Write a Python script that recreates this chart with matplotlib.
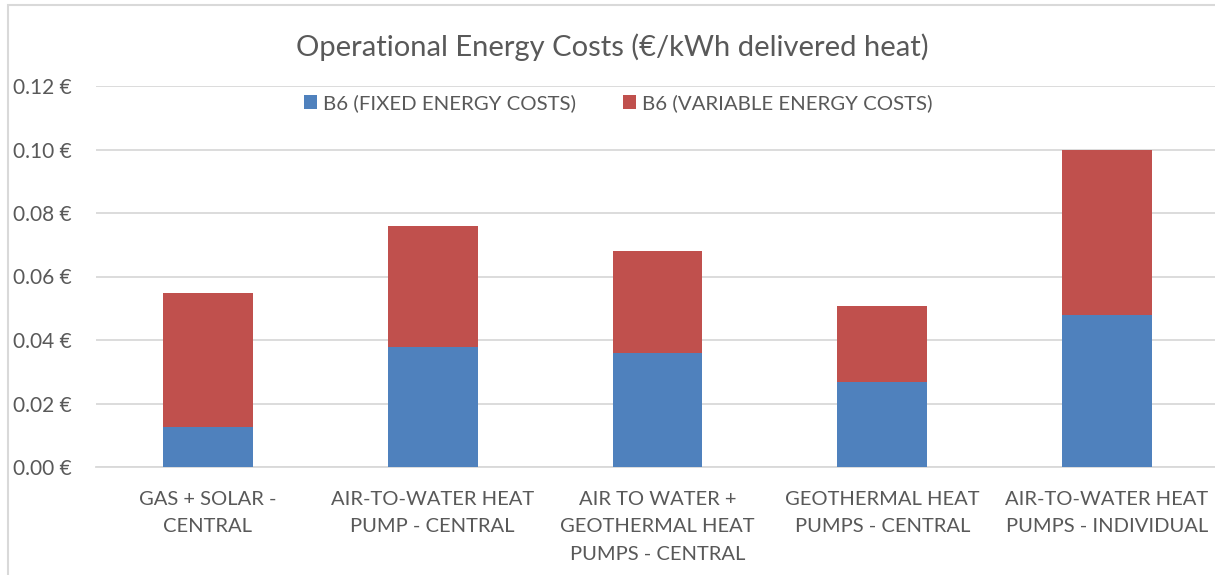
import matplotlib
matplotlib.use("Agg")
import matplotlib.pyplot as plt
import matplotlib.transforms as mtrans
from matplotlib.patches import Rectangle
from matplotlib.ticker import FuncFormatter

categories = ["GAS + SOLAR -\nCENTRAL",
              "AIR-TO-WATER HEAT\nPUMP - CENTRAL",
              "AIR TO WATER +\nGEOTHERMAL HEAT\nPUMPS - CENTRAL",
              "GEOTHERMAL HEAT\nPUMPS - CENTRAL",
              "AIR-TO-WATER HEAT\nPUMPS - INDIVIDUAL"]
fixed_costs = [0.0126, 0.0378, 0.0359, 0.0268, 0.0479]
variable_costs = [0.0422, 0.0381, 0.0321, 0.0239, 0.0519]
series_names = ["B6 (FIXED ENERGY COSTS)", "B6 (VARIABLE ENERGY COSTS)"]
yticks = [0.00, 0.02, 0.04, 0.06, 0.08, 0.10, 0.12]

plt.rcParams['font.family'] = ['Lato', 'DejaVu Sans']
TXT = '#595959'
GRID = '#d9d9d9'

W, H = 1215, 575
fig = plt.figure(figsize=(W/100, H/100), dpi=100)
ax = fig.add_axes([95.6/W, 1-467/H, 1123.8/W, (467-86)/H])

x = list(range(len(categories)))
ax.bar(x, fixed_costs, width=0.4, color='#4f81bd', label=series_names[0], zorder=3)
ax.bar(x, variable_costs, width=0.4, bottom=fixed_costs, color='#c0504d',
       label=series_names[1], zorder=3)

ax.set_xlim(-0.5, 4.5)
ax.set_ylim(0, 0.12)
ax.set_yticks(yticks)
ax.yaxis.set_major_formatter(FuncFormatter(lambda v, p: f"{v:.2f} €"))
ax.grid(axis='y', color=GRID, linewidth=1.3, zorder=0)
for s in ['top', 'right', 'left']:
    ax.spines[s].set_visible(False)
ax.spines['bottom'].set_color(GRID)
ax.spines['bottom'].set_linewidth(1.3)
ax.tick_params(axis='both', length=0, colors=TXT)
ax.tick_params(axis='y', labelsize=15, pad=0)
ax.set_xticks(x)
ax.set_xticklabels(categories, linespacing=1.75)
ax.tick_params(axis='x', labelsize=14.5, pad=17)
ytrans = mtrans.blended_transform_factory(fig.transFigure, ax.transData)
for lbl in ax.get_yticklabels():
    lbl.set_horizontalalignment('left')
    lbl.set_transform(ytrans)
    lbl.set_x(13/W)

fig.text(612/W, 1-47/H, "Operational Energy Costs (€/kWh delivered heat)",
         ha='center', va='center', fontsize=21, color=TXT)

leg = ax.legend(loc='center', bbox_to_anchor=(618/W, 1-103/H), bbox_transform=fig.transFigure,
                ncol=2, frameon=False, fontsize=14.7, handlelength=0.64, handleheight=0.64,
                handletextpad=0.3, columnspacing=2.3)
for t in leg.get_texts():
    t.set_color(TXT)

fig.patches.append(Rectangle((8/W, -0.1), 1.2, 1.1 - 5/H, transform=fig.transFigure,
                             fill=False, edgecolor='#d9d9d9', linewidth=1.5))

fig.savefig("out.png", dpi=100)
